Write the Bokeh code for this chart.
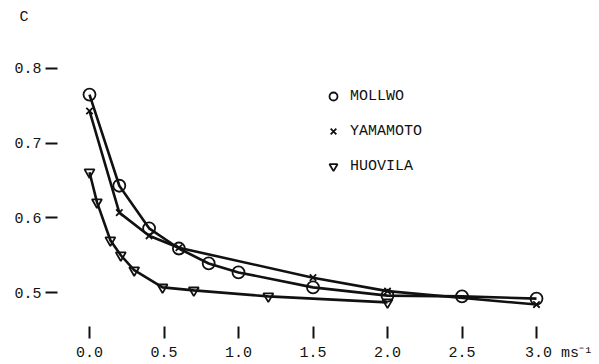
from bokeh.plotting import figure
from bokeh.models import (Range1d, FixedTicker, PrintfTickFormatter, Title,
                          Legend, LegendItem)
from bokeh.embed import file_html
from bokeh.resources import INLINE

# ---- data ----
mollwo_x = [0.0, 0.2, 0.4, 0.6, 0.8, 1.0, 1.5, 2.0, 2.5, 3.0]
mollwo_y = [0.765, 0.643, 0.586, 0.559, 0.539, 0.527, 0.507, 0.496, 0.495, 0.492]

yamamoto_x = [0.0, 0.2, 0.4, 0.6, 1.5, 2.0, 3.0]
yamamoto_y = [0.743, 0.607, 0.576, 0.560, 0.520, 0.502, 0.484]

huovila_x = [0.0, 0.05, 0.14, 0.21, 0.30, 0.49, 0.70, 1.20, 2.0]
huovila_y = [0.661, 0.621, 0.570, 0.550, 0.530, 0.507, 0.503, 0.495, 0.487]

x_ticks = [0.0, 0.5, 1.0, 1.5, 2.0, 2.5, 3.0]
y_ticks = [0.5, 0.6, 0.7, 0.8]
series_names = ["MOLLWO", "YAMAMOTO", "HUOVILA"]
y_title = "C"
x_unit = "ms\u207b\u00b9"

FONT = "Liberation Mono"
INK = "#111111"
NB = "\u00a0"

p = figure(width=599, height=364, output_backend="svg", toolbar_location=None,
           x_range=Range1d(-0.2148, 3.2886), y_range=Range1d(0.45467, 0.85067),
           min_border_left=57, min_border_right=20, min_border_top=30,
           min_border_bottom=37)
p.outline_line_color = None
p.grid.visible = False

p.title = Title(text=y_title, align="left", offset=-38, text_font=FONT,
                text_font_size="15px", text_font_style="normal",
                text_color=INK, standoff=9)

for ax in (p.xaxis[0], p.yaxis[0]):
    ax.axis_line_color = None
    ax.major_tick_in = 0
    ax.major_tick_out = 12
    ax.major_tick_line_width = 2
    ax.major_tick_line_color = INK
    ax.minor_tick_line_color = None
    ax.major_label_text_font = FONT
    ax.major_label_text_font_size = "15px"
    ax.major_label_text_color = INK
    ax.formatter = PrintfTickFormatter(format="%.1f")
p.xaxis[0].ticker = FixedTicker(ticks=x_ticks)
p.yaxis[0].ticker = FixedTicker(ticks=y_ticks)
p.xaxis[0].major_label_standoff = 6
p.yaxis[0].major_label_standoff = 4
p.yaxis[0].major_label_text_baseline = "alphabetic"
# unit written after the last tick label, keeping "3.0" centred on its tick
last = "%.1f" % x_ticks[-1]
unit_txt = NB + x_unit
p.xaxis[0].major_label_overrides = {x_ticks[-1]: NB * len(unit_txt) + last + unit_txt}

lw = 2.6
p.line(mollwo_x, mollwo_y, line_color=INK, line_width=lw)
p.line(yamamoto_x, yamamoto_y, line_color=INK, line_width=lw)
p.line(huovila_x, huovila_y, line_color=INK, line_width=lw)

r1 = p.scatter(mollwo_x, mollwo_y, marker="circle", size=12, fill_color="white",
               fill_alpha=0, line_color=INK, line_width=1.8)
r2 = p.scatter(yamamoto_x, yamamoto_y, marker="x", size=9, line_color=INK,
               line_width=1.8)
r3 = p.scatter(huovila_x, huovila_y, marker="inverted_triangle", size=10,
               fill_alpha=0, line_color=INK, line_width=1.8)

legend = Legend(items=[LegendItem(label=series_names[0], renderers=[r1]),
                       LegendItem(label=series_names[1], renderers=[r2]),
                       LegendItem(label=series_names[2], renderers=[r3])],
                location=(266, 148), padding=0, margin=0, spacing=11,
                glyph_width=20, glyph_height=24, label_standoff=7,
                label_text_font=FONT, label_text_font_size="15px",
                label_text_color=INK, border_line_color=None,
                background_fill_alpha=0)
p.add_layout(legend, "center")

open("out.html", "w").write(file_html(p, INLINE))
